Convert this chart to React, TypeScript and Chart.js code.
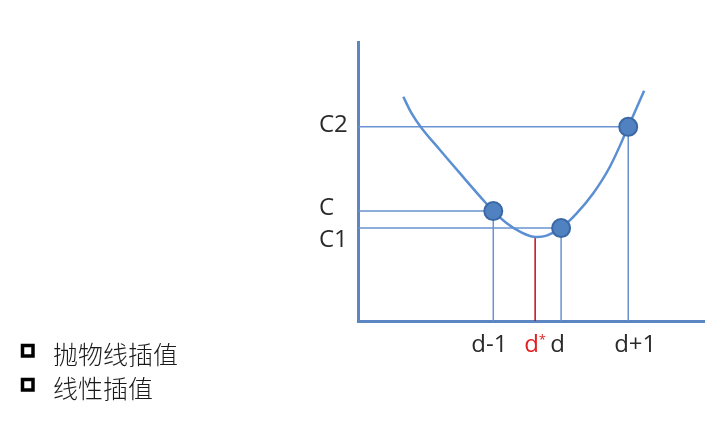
import React, { useEffect, useRef } from 'react';
import { Chart, registerables } from 'chart.js';

Chart.register(...registerables);

// Parabola-like objective curve (x in abstract step units, y in cost units)
const curveX = [1.31, 1.55, 1.84, 2.37, 2.95, 3.53, 3.91, 4.30, 4.68, 5.07, 5.45, 5.87, 6.32, 6.80, 7.28, 7.81, 8.27];
const curveY = [8.04, 7.44, 6.91, 6.13, 5.29, 4.46, 3.94, 3.50, 3.20, 3.02, 3.06, 3.34, 3.86, 4.58, 5.53, 6.96, 8.25];

// Sample points
const pointLabels = ['d-1', 'd', 'd+1'];
const pointX = [3.91, 5.87, 7.81];
const pointY = [3.94, 3.33, 6.96];
const valueLabels = ['C', 'C1', 'C2'];

// Interpolated optimum
const optimumLabel = 'd';
const optimumMark = '*';
const optimumX = 5.12;
const optimumY = 3.02;

const legendItems = ['抛物线插值', '线性插值'];

const AXIS_COLOR = '#5a86c3';
const GUIDE_COLOR = '#6893cf';
const CURVE_COLOR = '#5b8fd3';
const LABEL_FONT = '"Open Sans", "DejaVu Sans", sans-serif';
const CJK_FONT = '"Noto Sans CJK SC", sans-serif';

const labelsPlugin = {
  id: 'diagramLabels',
  afterDraw(chart: any) {
    const ctx = chart.ctx as CanvasRenderingContext2D;
    const xs = chart.scales.x;
    const ys = chart.scales.y;
    ctx.save();
    ctx.fillStyle = '#2a2a2a';
    ctx.font = `24px ${LABEL_FONT}`;
    ctx.textAlign = 'left';
    ctx.textBaseline = 'alphabetic';
    // y-side value labels
    const yOffsets = [4, 19, 5.5];
    valueLabels.forEach((t, i) => {
      const py = ys.getPixelForValue(pointY[i]) + yOffsets[i];
      ctx.fillText(t, xs.left - 39, py);
    });
    // x-side labels
    const base = ys.bottom + 31;
    const xOffsets = [-4, -3.5, 7];
    ctx.textAlign = 'center';
    pointLabels.forEach((t, i) => {
      const px = xs.getPixelForValue(pointX[i]) + xOffsets[i];
      ctx.fillText(t, px, base);
    });
    // optimum label in red
    ctx.fillStyle = '#e02020';
    ctx.textAlign = 'left';
    const ox = xs.getPixelForValue(optimumX);
    ctx.fillText(optimumLabel, ox - 11, base);
    const w = ctx.measureText(optimumLabel).width;
    ctx.font = `13px ${LABEL_FONT}`;
    ctx.fillText(optimumMark, ox - 11 + w, base - 8);
    // legend
    ctx.fillStyle = '#1a1a1a';
    ctx.strokeStyle = '#000';
    ctx.lineWidth = 3.5;
    ctx.font = `300 25px ${CJK_FONT}`;
    ctx.textBaseline = 'middle';
    legendItems.forEach((t, i) => {
      const cy = 351 + i * 34;
      ctx.strokeRect(22.5, cy - 5.5, 10.5, 10.5);
      ctx.fillText(t, 53, cy + 3);
    });
    ctx.restore();
  },
};

export default function App() {
  const ref = useRef<HTMLCanvasElement>(null);
  useEffect(() => {
    if (!ref.current) return;
    const guides = pointX.map((x, i) => ({
      data: [
        { x: 0, y: pointY[i] },
        { x, y: pointY[i] },
        { x, y: 0 },
      ],
      borderColor: GUIDE_COLOR,
      borderWidth: 1.5,
      pointRadius: 0,
      showLine: true,
      tension: 0,
    }));
    const chart = new Chart(ref.current, {
      type: 'scatter',
      data: {
        datasets: [
          {
            data: pointX.map((x, i) => ({ x, y: pointY[i] })),
            pointRadius: 9,
            pointBackgroundColor: '#5082c2',
            pointBorderColor: '#3b68a5',
            pointBorderWidth: 2,
            showLine: false,
          } as any,
          {
            data: curveX.map((x, i) => ({ x, y: curveY[i] })),
            borderColor: CURVE_COLOR,
            borderWidth: 2.5,
            pointRadius: 0,
            showLine: true,
            tension: 0.4,
          },
          ...guides,
          {
            data: [
              { x: optimumX, y: optimumY },
              { x: optimumX, y: 0 },
            ],
            borderColor: '#c0101a',
            borderWidth: 1.5,
            pointRadius: 0,
            showLine: true,
          },
        ],
      },
      options: {
        responsive: false,
        animation: false,
        events: [],
        layout: { padding: { left: 358, top: 42, right: 24, bottom: 116 } },
        plugins: { legend: { display: false }, tooltip: { enabled: false } },
        scales: {
          x: {
            type: 'linear',
            min: 0,
            max: 10,
            grid: { display: false, drawTicks: false },
            ticks: { display: false },
            border: { color: AXIS_COLOR, width: 3 },
            afterFit: (s: any) => { s.height = 0; },
          },
          y: {
            type: 'linear',
            min: 0,
            max: 10,
            grid: { display: false, drawTicks: false },
            ticks: { display: false },
            border: { color: AXIS_COLOR, width: 3 },
            afterFit: (s: any) => { s.width = 0; },
          },
        },
      },
      plugins: [labelsPlugin],
    });
    return () => chart.destroy();
  }, []);
  return (
    <div style={{ position: 'fixed', left: 0, top: 0, width: 728, height: 437, background: '#fff' }}>
      <canvas ref={ref} width={728} height={437} style={{ display: 'block' }} />
    </div>
  );
}
